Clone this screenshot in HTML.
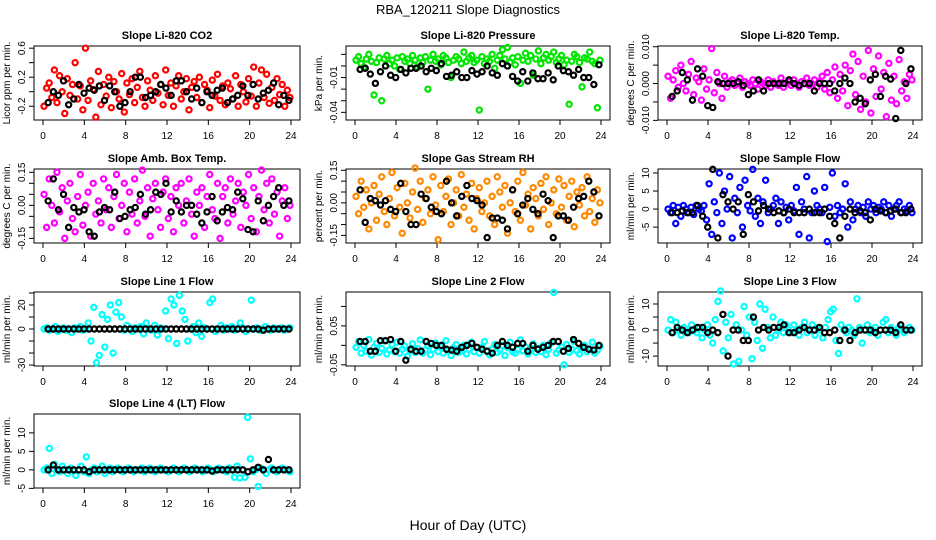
<!DOCTYPE html>
<html><head><meta charset="utf-8"><style>
html,body{margin:0;padding:0;background:#fff;}
svg{display:block;font-family:"Liberation Sans",sans-serif;}
</style></head><body>
<svg id="chart" width="936" height="540" viewBox="0 0 936 540" xmlns="http://www.w3.org/2000/svg">
<text x="468" y="14" text-anchor="middle" font-size="13">RBA_120211  Slope Diagnostics</text>
<text x="468" y="530" text-anchor="middle" font-size="14">Hour of Day (UTC)</text>
</svg>
<script>
// ---- data ----
const panelTitles = ["Slope Li-820 CO2","Slope Li-820 Pressure","Slope Li-820 Temp.","Slope Amb. Box Temp.","Slope Gas Stream RH","Slope Sample Flow","Slope Line 1 Flow","Slope Line 2 Flow","Slope Line 3 Flow","Slope Line 4 (LT) Flow"];
const yTitles = ["Licor ppm per min.","kPa per min.","degrees C per min.","degrees C per min.","percent per min.","ml/min per min.","ml/min per min.","ml/min per min.","ml/min per min.","ml/min per min."];
const xTicks = [0,4,8,12,16,20,24];

const co2Color = [-20,5,12,-8,30,-15,22,0,-30,18,-5,10,40,-10,8,-25,60,-12,15,3,-35,28,-18,10,-6,20,-22,14,0,-10,25,-28,12,-4,18,-15,6,28,-8,-20,15,2,-12,22,-2,10,-18,30,-5,12,-20,8,22,-10,0,18,-25,6,14,-8,20,-15,10,2,-22,16,-6,24,-12,8,-18,12,4,-10,22,-20,10,0,-14,18,-6,34,-20,12,30,-8,24,-16,6,-12,18,-4,10,-20,2,-8];
const co2Black = [-15,0,-5,15,-18,-10,10,-2,5,2,8,-12,8,0,-20,-15,0,20,20,-8,-5,0,10,5,-5,15,15,0,-10,5,-15,0,-5,2,5,-15,-10,-5,8,-5,10,-10,-2,2,12,-18,-5,-12];
const presColor = [5,8,2,-1,6,10,4,-25,3,7,-30,6,9,2,5,0,7,-3,8,4,6,2,9,5,-1,7,3,8,-20,5,10,4,6,1,9,7,3,-10,5,8,6,2,12,4,7,9,3,5,-38,8,2,6,4,10,-2,5,9,14,6,16,3,7,1,8,-15,5,11,4,9,-8,6,13,2,7,10,5,8,12,3,6,9,1,5,-33,4,10,8,3,-18,7,6,12,4,2,-36,5];
const presBlack = [-3,-2,-7,-15,-5,0,-8,-10,-3,-6,-2,-2,0,-5,-2,-4,2,-9,-8,-5,-10,-10,-4,-7,-5,0,-6,-8,2,0,-9,-13,-5,-13,-6,-11,-11,-6,-12,0,-4,-5,-8,-3,-10,-10,-16,1];
const ltempColor = [20,-40,10,35,-10,50,0,-20,25,60,-30,15,5,-45,40,-15,10,95,-25,30,0,-40,20,-10,5,10,-5,0,15,-10,5,0,-5,10,0,-15,5,0,-5,10,-10,5,0,-5,15,-10,0,5,-5,10,0,-10,5,0,15,-5,0,10,-10,5,20,-15,30,-25,10,45,-40,25,-20,50,-60,35,80,-30,60,-70,20,-50,90,-80,40,-35,75,-15,30,-90,55,-45,20,-55,65,-20,5,-40,25,10];
const ltempBlack = [-35,-20,30,10,-45,40,20,-60,-65,5,0,0,0,5,-5,-30,-20,10,-20,0,0,0,0,10,0,-5,0,0,-20,0,0,0,-20,0,15,0,-50,-40,-55,10,25,-35,20,12,-95,90,0,40];
const ambColor = [5,-10,12,0,-8,15,-3,8,-15,2,10,-6,-12,4,14,-9,0,6,-14,10,-4,2,-8,12,-2,8,-10,4,14,-6,0,10,-12,6,-4,12,-8,2,16,-5,8,-14,3,10,-2,-10,6,12,-6,4,-12,8,0,10,-8,2,12,-4,-14,6,0,8,-10,4,14,-2,-6,10,-15,4,8,-8,12,-4,2,10,-10,6,0,14,-6,8,-12,4,16,-2,10,-8,12,-4,6,-14,2,8,-6,0];
const ambBlack = [2,12,-2,5,-10,-1,-3,-2,-12,-14,-3,-1,-2,6,-6,-5,-2,-1,5,-4,-2,6,5,10,-3,2,-3,0,0,-4,-8,-3,4,-7,-3,-1,-2,6,3,-11,-12,2,-7,0,4,8,0,2];
const rhColor = [3,-5,10,-2,6,-12,0,8,-8,4,12,-4,-10,2,14,-6,7,-2,-14,9,0,-7,5,16,-3,10,-9,2,6,-5,12,-1,-17,8,-4,3,11,-10,0,6,-6,13,-2,4,-8,9,-12,2,7,-4,0,10,-6,3,-10,12,5,-2,8,-14,0,6,-4,10,-8,14,-1,4,-12,7,2,-6,9,-3,12,-10,0,6,-5,11,-2,8,-8,3,10,-11,5,-1,7,-6,12,-4,2,-9,6,0];
const rhBlack = [6,-9,2,1,-1,1,-3,-4,9,-4,-10,-10,4,2,-2,-4,-5,10,0,-6,3,8,2,1,-1,-16,-7,-7,-8,-12,6,-5,-1,2,-3,-5,4,1,-16,-6,-6,-8,-2,2,3,10,5,-6];
const sflowColor = [0,-1,1,-4,0.5,-2,1,0,-1,0.5,-1.5,1,0,-0.5,1,-3,7,-7,2,-1,10,-4,5,0,9,-8,3,-1,6,-5,8,1,-0.5,11,-2,3,-4,2,8,-1,0,1,3,-4,2,-1,0.5,-3,1,-0.5,6,-7,2,0,9,-8,-1,5,1,0,-1,6,-9,0.5,10,-2,1,-1,0,7,-5,2,-3,0,1,-1,0.5,-2,2,0,1,-1,0.5,0,2,-1,1,-2,0,1,2,-1,0,-0.5,1,-1];
const sflowBlack = [-1,-1,-0.5,-1,-1,1,-2,-5,11,-8,4,2,0,2,-7,4,2,-0.5,1,0,-1,-0.5,-1,0,-1,-1,-1,0,-1,-1,0,-2,-4,-8,-2,0,-1,-0.5,-1,-3,0,-0.5,-1,-0.5,0,-1,-1,0];
const line1Color = [0,1,-1,0,2,-2,0,1,-1,0,-3,1,0,2,-1,0,5,-10,18,-28,-22,12,-15,8,20,-20,14,22,10,-1,3,0,-2,1,0,2,-4,5,0,-1,3,-5,1,0,15,-8,25,20,-12,28,15,8,-10,0,2,-3,5,-6,1,0,22,25,-2,0,3,-1,1,0,2,-1,0,5,1,-2,0,24,0,1,-1,0,2,0,-1,1,0,0,1,-1,0,1];
const line1Black = [0,0,0,0,0,0,0,0,0,0,0,0,0,0,0,0,0,0,0,0,0,0,0,0,0,0,0,0,0,0,0,0,0,0,0,0,0,0,0,0,0,0,-1,0,0,0,0,0];
const line2Color = [-5,10,-20,0,-15,15,-25,-5,5,-18,-8,12,-22,-12,2,-16,8,-20,-10,-2,-28,-14,4,-18,-8,14,-20,-12,0,-24,-10,6,-16,-4,-20,12,-12,-26,-6,2,-18,-14,0,-22,-10,8,-16,-6,-20,-4,10,-14,-24,-10,2,-18,-12,0,-26,-6,8,-16,-20,-10,14,-14,-4,-22,-12,4,-18,-8,-16,0,-24,-10,6,136,-20,-12,-4,-50,2,-18,-10,10,-14,-22,-6,0,-16,-10,8,-20,-12,-2];
const line2Black = [10,10,-15,-15,12,12,15,-15,10,-38,-10,-15,-15,10,5,0,0,-10,-12,-15,-5,0,5,-5,-10,-15,-20,0,10,0,-5,5,5,-15,0,-10,-5,0,10,10,-15,-8,15,5,-5,-10,-12,0];
const line3Color = [0,4,-1,3,0,-2,1,0,-1,2,0,-1,1,-3,0,2,-2,-5,4,11,15,-8,3,-3,6,-13,2,-12,0,9,-2,5,-11,3,-4,10,-7,8,1,-3,5,-2,0,3,-1,2,0,-1,2,0,-2,1,3,-1,0,2,-2,1,0,-3,1,4,7,8,-4,-9,2,0,-1,1,0,-2,12,1,-5,0,2,-1,0,1,-2,0,3,4,-1,1,0,-2,1,0,-1,0,1,0];
const line3Black = [-1,1,0,-1,0,1,1,-1,0,-1,6,-10,0,0,-4,-4,5,0,1,0,1,1,2,-1,-1,0,1,0,0,1,-1,-1,0,-4,0,-4,-1,0,0,0,-1,0,0,0,-1,2,0,0];
const line4Color = [0,0.5,5.8,-1,1.5,0,-0.5,1,0,-1,0.5,0,-1.5,0,1,-0.5,3.5,-1,0,0.5,-0.5,0,1,-1,0,0.5,-0.5,0,0.5,0,-0.5,0,0.5,0,-0.5,0,0,0.5,-0.5,0,0.5,0,-0.5,0,0.5,0,0,-0.5,0,0.5,0,-0.5,0,0.5,0,-0.5,0,0.5,0,0,-0.5,0,0.5,0,-0.5,0,0.5,0,0,-0.5,0.5,0,-2,1,-2.2,0,-2,14.2,3,-0.5,0,-4.5,0.5,0,-1,0,0.5,0,-0.5,0,0.5,0,0,-0.5];
const line4Black = [0,1.3,0,0,0,0,0,0,-0.5,0,0,0,0,0,0,0,0,0,0,0,0,0,0,0,0,0,0,0,0,0,0,0,-0.3,0,0,0,0,0,0,-0.5,0,0.7,0,2.8,0,0,0,0];

// unit multipliers for stored values
const units = [0.01,0.001,0.0001,0.01,0.01,1,1,0.001,1,1];
const colorSeries = [co2Color,presColor,ltempColor,ambColor,rhColor,sflowColor,line1Color,line2Color,line3Color,line4Color];
const blackSeries = [co2Black,presBlack,ltempBlack,ambBlack,rhBlack,sflowBlack,line1Black,line2Black,line3Black,line4Black];
const yTickVals = [[-0.2,0,0.2,0.4,0.6],[-0.04,-0.03,-0.02,-0.01,0,0.01],[-0.01,-0.005,0,0.005,0.01],[-0.15,-0.1,-0.05,0,0.05,0.1,0.15],[-0.15,-0.1,-0.05,0,0.05,0.1,0.15],[-5,0,5,10],[-30,-20,-10,0,10,20,30],[-0.05,0,0.05,0.1],[-10,-5,0,5,10],[-5,0,5,10]];
const yTickLabels = [["-0.2","","0.2","","0.6"],["-0.04","","","-0.01","",""],["-0.010","","0.000","","0.010"],["-0.15","","","0.00","","","0.15"],["-0.15","","","0.00","","","0.15"],["-5","0","5","10"],["-30","","","0","","20",""],["-0.05","","0.05",""],["-10","","0","","10"],["-5","0","5","10"]];
const yRanges = [[-0.39,0.63],[-0.0466,0.0172],[-0.0099,0.0102],[-0.171,0.165],[-0.185,0.156],[-9.4,11.1],[-30.8,30.8],[-0.053,0.137],[-13.8,14.6],[-4.9,15.1]];
const colors = ["#ff0000","#00e600","#ff00ff","#ff00ff","#ff8800","#0000ff","#00ffff","#00ffff","#00ffff","#00ffff"];

// ---- layout ----
const NS = "http://www.w3.org/2000/svg";
const svg = document.getElementById("chart");
const colL = [34,346,658], colR = [300,610,922], rowT = [46,169,292,414], H = 74;
function mk(tag, attrs, parent){ const e=document.createElementNS(NS,tag); for(const k in attrs) e.setAttribute(k,attrs[k]); (parent||svg).appendChild(e); return e; }

panelTitles.forEach((title,p)=>{
  const c = p%3, r = Math.floor(p/3);
  const L = colL[c], R = colR[c], T = rowT[r], B = T+H;
  const g = mk("g",{});
  
  
  const xs = h => L+9 + h/24*(R-L-18);
  const [y0,y1] = yRanges[p];
  const ys = v => B - (v-y0)/(y1-y0)*H;
  const t = mk("text",{x:(L+R)/2,y:T-7,"text-anchor":"middle","font-size":"11","font-weight":"bold"},g);
  t.textContent = title;
  
  
  const box = mk("rect",{x:L,y:T,width:R-L,height:H,fill:"none",stroke:"#000","stroke-width":"1"},g);
  
  
  mk("line",{x1:xs(0),x2:xs(24),y1:B,y2:B,stroke:"#000"},g);
  xTicks.forEach(h=>{
    mk("line",{x1:xs(h),x2:xs(h),y1:B,y2:B+5,stroke:"#000"},g);
    const tl = mk("text",{x:xs(h),y:B+19,"text-anchor":"middle","font-size":"10"},g);
    tl.textContent = h;
    
    
  });
  const tv = yTickVals[p];
  mk("line",{x1:L,x2:L,y1:ys(tv[0]),y2:ys(tv[tv.length-1]),stroke:"#000"},g);
  tv.forEach((v,i)=>{
    mk("line",{x1:L-5,x2:L,y1:ys(v),y2:ys(v),stroke:"#000"},g);
    if(yTickLabels[p][i]){
      const yl = mk("text",{x:L-9,y:ys(v),"text-anchor":"middle","font-size":"10",transform:`rotate(-90 ${L-9} ${ys(v)})`},g);
      yl.textContent = yTickLabels[p][i];
      
      
    }
  });
  const yt = mk("text",{x:L-24,y:(T+B)/2,"text-anchor":"middle","font-size":"10",transform:`rotate(-90 ${L-24} ${(T+B)/2})`},g);
  yt.textContent = yTitles[p];
  
  
  const cs = colorSeries[p], u = units[p];
  cs.forEach((v,i)=>{
    const h = 0.1 + i*23.8/(cs.length-1);
    const pt = mk("circle",{cx:xs(h),cy:ys(v*u),r:2.6,fill:"none",stroke:colors[p],"stroke-width":"2.2"},g);
    
    
  });
  const bs = blackSeries[p];
  bs.forEach((v,i)=>{
    const h = 0.5 + i*23.3/(bs.length-1);
    const pt = mk("circle",{cx:xs(h),cy:ys(v*u),r:2.6,fill:"none",stroke:"#000","stroke-width":"2.2"},g);
    
    
  });
});
</script>
</body></html>
